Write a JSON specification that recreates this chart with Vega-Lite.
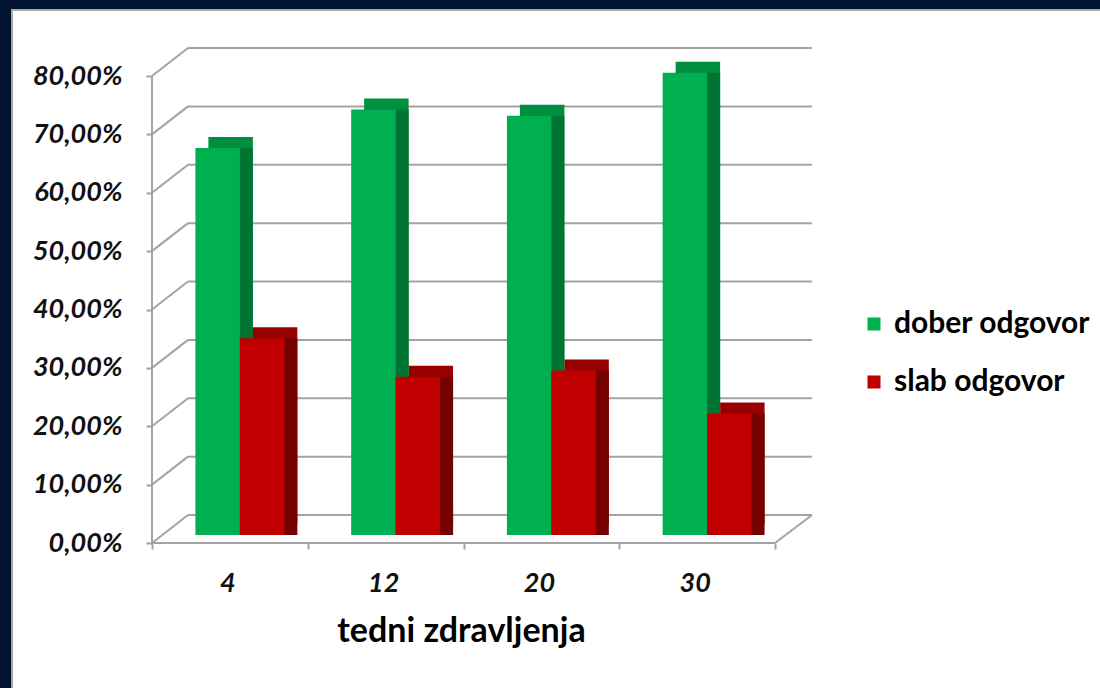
{
  "$schema": "https://vega.github.io/schema/vega-lite/v6.json",
  "width": 623,
  "height": 467,
  "autosize": "none",
  "padding": {"left": 162, "top": 68, "right": 315, "bottom": 153},
  "background": "#001331",
  "config": {"view": {"stroke": null}, "font": "Lato"},
  "datasets": {
    "bars": [
      {"week": "4", "series": "dober odgovor", "value": 66.3},
      {"week": "4", "series": "slab odgovor", "value": 33.7},
      {"week": "12", "series": "dober odgovor", "value": 72.9},
      {"week": "12", "series": "slab odgovor", "value": 27.1},
      {"week": "20", "series": "dober odgovor", "value": 71.8},
      {"week": "20", "series": "slab odgovor", "value": 28.2},
      {"week": "30", "series": "dober odgovor", "value": 79.2},
      {"week": "30", "series": "slab odgovor", "value": 20.8}
    ],
    "grid": [{"v": 0}, {"v": 10}, {"v": 20}, {"v": 30}, {"v": 40}, {"v": 50}, {"v": 60}, {"v": 70}, {"v": 80}],
    "one": [{}]
  },
  "layer": [
    {
      "data": {"name": "one"},
      "mark": {"type": "rect", "fill": "white", "stroke": "#a8a8a8", "strokeWidth": 2, "xOffset": -150, "x2Offset": 319, "yOffset": -58, "y2Offset": 157},
      "encoding": {
        "x": {"datum": 0, "type": "quantitative", "scale": {"domain": [0, 1], "nice": false}, "axis": null},
        "x2": {"datum": 1},
        "y": {"datum": 80, "type": "quantitative", "scale": {"domain": [0, 80], "nice": false}, "axis": null},
        "y2": {"datum": 0}
      }
    },
    {
      "data": {"name": "grid"},
      "mark": {"type": "rule", "stroke": "#a3a3a3", "strokeWidth": 2, "xOffset": 26, "x2Offset": 27, "yOffset": -20},
      "encoding": {
        "x": {"datum": 0, "type": "quantitative", "scale": {"domain": [0, 1], "nice": false}, "axis": null},
        "x2": {"datum": 1},
        "y": {"field": "v", "type": "quantitative", "scale": {"domain": [0, 80], "nice": false}, "axis": null}
      }
    },
    {
      "data": {"name": "grid"},
      "mark": {"type": "rule", "stroke": "#a3a3a3", "strokeWidth": 2, "xOffset": -10, "x2Offset": 26, "yOffset": 8, "y2Offset": -20},
      "encoding": {
        "x": {"datum": 0, "type": "quantitative", "scale": {"domain": [0, 1], "nice": false}, "axis": null},
        "x2": {"datum": 0},
        "y": {"field": "v", "type": "quantitative", "scale": {"domain": [0, 80], "nice": false}, "axis": null},
        "y2": {"field": "v"}
      }
    },
    {
      "data": {"name": "one"},
      "mark": {"type": "rule", "stroke": "#a3a3a3", "strokeWidth": 2, "xOffset": -10, "yOffset": 8, "y2Offset": 8},
      "encoding": {
        "x": {"datum": 0, "type": "quantitative", "scale": {"domain": [0, 1], "nice": false}, "axis": null},
        "y": {"datum": 0, "type": "quantitative", "scale": {"domain": [0, 80], "nice": false}, "axis": null},
        "y2": {"datum": 80}
      }
    },
    {
      "data": {"name": "one"},
      "mark": {"type": "rule", "stroke": "#a3a3a3", "strokeWidth": 2, "xOffset": -10, "x2Offset": -10, "yOffset": 8},
      "encoding": {
        "x": {
          "datum": 0, "type": "quantitative", "scale": {"domain": [0, 1], "nice": false},
          "axis": {
            "orient": "bottom", "values": [0, 0.25, 0.5, 0.75, 1], "labels": false, "title": null, "domain": false, "grid": false,
            "offset": 8, "tickOffset": -10, "tickSize": 6, "tickColor": "#a3a3a3", "tickWidth": 2, "zindex": 1
          }
        },
        "x2": {"datum": 1},
        "y": {"datum": 0, "type": "quantitative", "scale": {"domain": [0, 80], "nice": false}, "axis": null}
      }
    },
    {
      "data": {"name": "one"},
      "mark": {"type": "rule", "stroke": "#a3a3a3", "strokeWidth": 2, "xOffset": -10, "x2Offset": 27, "yOffset": 8, "y2Offset": -20},
      "encoding": {
        "x": {"datum": 1, "type": "quantitative", "scale": {"domain": [0, 1], "nice": false}, "axis": null},
        "x2": {"datum": 1},
        "y": {"datum": 0, "type": "quantitative", "scale": {"domain": [0, 80], "nice": false}, "axis": null},
        "y2": {"datum": 0}
      }
    },
    {
      "data": {"name": "bars"},
      "mark": {"type": "bar", "yOffset": -11, "y2Offset": -11},
      "encoding": {
        "x": {"field": "week", "type": "nominal", "sort": ["4", "12", "20", "30"], "scale": {"paddingInner": 0.429, "paddingOuter": 0.2145, "range": [13, 636]}, "axis": null},
        "xOffset": {"field": "series", "type": "nominal", "sort": ["dober odgovor", "slab odgovor"], "scale": {"paddingInner": 0, "paddingOuter": 0}},
        "y": {"field": "value", "type": "quantitative", "scale": {"domain": [0, 80], "nice": false}, "axis": null},
        "color": {"condition": {"test": "datum.series === 'dober odgovor'", "value": "#008f3f"}, "value": "#980000"}
      }
    },
    {
      "data": {"name": "bars"},
      "mark": {"type": "bar", "yOffset": 0, "y2Offset": -9},
      "encoding": {
        "x": {"field": "week", "type": "nominal", "sort": ["4", "12", "20", "30"], "scale": {"paddingInner": 0.429, "paddingOuter": 0.2145, "range": [13, 636]}, "axis": null},
        "xOffset": {"field": "series", "type": "nominal", "sort": ["dober odgovor", "slab odgovor"], "scale": {"paddingInner": 0, "paddingOuter": 0}},
        "y": {"field": "value", "type": "quantitative", "scale": {"domain": [0, 80], "nice": false}, "axis": null},
        "color": {"condition": {"test": "datum.series === 'dober odgovor'", "value": "#007533"}, "value": "#750000"}
      }
    },
    {
      "data": {"name": "bars"},
      "mark": {"type": "bar"},
      "encoding": {
        "x": {
          "field": "week", "type": "nominal", "sort": ["4", "12", "20", "30"],
          "scale": {"paddingInner": 0.429, "paddingOuter": 0.2145, "range": [0, 623]},
          "axis": {
            "orient": "bottom",
            "title": "tedni zdravljenja", "titleFont": "Lato", "titleFontSize": 34, "titleFontWeight": "bold", "titleColor": "#000000", "titlePadding": 18, "titleX": 299,
            "offset": 8, "ticks": false, "domain": false, "grid": false,
            "labelOffset": -12, "labelAngle": 0, "labelFont": "Lato", "labelFontSize": 27, "labelFontWeight": "bold", "labelFontStyle": "italic", "labelColor": "#111111", "labelPadding": 27,
            "zindex": 1
          }
        },
        "xOffset": {"field": "series", "type": "nominal", "sort": ["dober odgovor", "slab odgovor"], "scale": {"paddingInner": 0, "paddingOuter": 0}},
        "y": {
          "field": "value", "type": "quantitative",
          "scale": {"domain": [0, 80], "nice": false},
          "axis": {
            "orient": "left",
            "title": null, "values": [0, 10, 20, 30, 40, 50, 60, 70, 80],
            "labelExpr": "replace(format(datum.value, '.2f'), '.', ',') + '%'",
            "offset": 10, "tickOffset": 8, "domain": false, "grid": false,
            "tickSize": 6, "tickColor": "#a3a3a3", "tickWidth": 2,
            "labelFont": "Lato", "labelFontSize": 27, "labelFontWeight": "bold", "labelFontStyle": "italic", "labelColor": "#111111", "labelPadding": 24,
            "zindex": 1
          }
        },
        "color": {
          "field": "series", "type": "nominal",
          "scale": {"domain": ["dober odgovor", "slab odgovor"], "range": ["#00b050", "#c00000"]},
          "legend": {
            "title": null, "orient": "none", "legendX": 697, "legendY": 241,
            "symbolType": "square", "symbolSize": 170, "symbolStrokeWidth": 0,
            "labelFont": "Lato", "labelFontSize": 30, "labelFontWeight": "bold", "labelColor": "#000000", "labelLimit": 400,
            "rowPadding": 28, "labelOffset": 5, "zindex": 1
          }
        }
      }
    }
  ],
  "resolve": {"scale": {"x": "independent", "y": "independent"}}
}
